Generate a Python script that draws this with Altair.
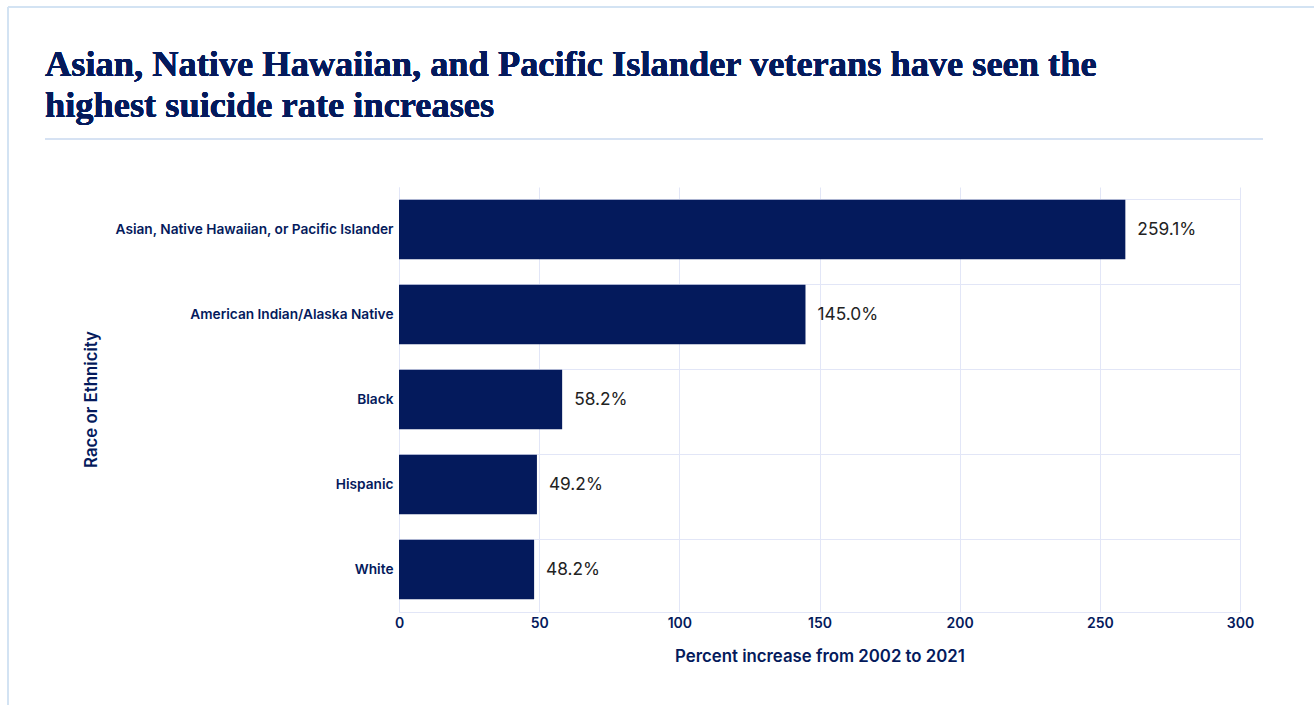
import altair as alt
import pandas as pd

categories = [
    "Asian, Native Hawaiian, or Pacific Islander",
    "American Indian/Alaska Native",
    "Black",
    "Hispanic",
    "White",
]
values = [259.1, 145.0, 58.2, 49.2, 48.2]
labels = ["259.1%", "145.0%", "58.2%", "49.2%", "48.2%"]
title_lines = [
    "Asian, Native Hawaiian, and Pacific Islander veterans have seen the",
    "highest suicide rate increases",
]

df = pd.DataFrame({"group": categories, "value": values, "label": labels})

NAVY = "#041a5c"
GRID = "#e2e6f7"

y_enc = alt.Y(
    "group:N",
    sort=categories,
    title="Race or Ethnicity",
    scale=alt.Scale(paddingInner=0.3, paddingOuter=0.15),
    axis=alt.Axis(
        labelFont="Inter",
        labelFontSize=13.7,
        labelFontWeight=600,
        labelColor=NAVY,
        labelPadding=6,
        labelLimit=400,
        ticks=False,
        domainColor=GRID,
        gridColor=GRID,
        grid=True,
        bandPosition=0,
        titleFont="Inter",
        titleFontSize=16.8,
        titleFontWeight=600,
        titleColor=NAVY,
        titleX=-299,
        titleY=212,
    ),
)

x_enc = alt.X(
    "value:Q",
    title="Percent increase from 2002 to 2021",
    scale=alt.Scale(domain=[0, 300]),
    axis=alt.Axis(
        values=[0, 50, 100, 150, 200, 250, 300],
        labelFont="Inter",
        labelFontSize=14,
        labelFontWeight=600,
        labelColor=NAVY,
        labelPadding=4,
        labelFlush=False,
        ticks=False,
        domainColor=GRID,
        gridColor=GRID,
        titleFont="Inter",
        titleFontSize=16.8,
        titleFontWeight=600,
        titleColor=NAVY,
        titlePadding=18,
    ),
)

base = alt.Chart(df)

bars = base.mark_bar(color=NAVY).encode(y=y_enc, x=x_enc)

text = base.mark_text(
    align="left", dx=12, font="Inter", fontSize=17.3, color="#222222"
).encode(y=alt.Y("group:N", sort=categories), x="value:Q", text="label:N")

sep = alt.Chart(df).mark_rule(color="#d6e2f3", strokeWidth=2).encode(
    x=alt.value(-354), x2=alt.value(864), y=alt.value(-48)
)

frame_left = alt.Chart(df).mark_rule(color="#d3e3f3", strokeWidth=2).encode(
    x=alt.value(-391), y=alt.value(-180), y2=alt.value(518)
)
frame_top = alt.Chart(df).mark_rule(color="#d3e3f3", strokeWidth=2).encode(
    x=alt.value(-391), x2=alt.value(915), y=alt.value(-180)
)

title = alt.Chart(df).mark_text(
    align="left",
    baseline="alphabetic",
    font="Liberation Serif",
    fontSize=36.4,
    fontWeight=600,
    color=NAVY,
    lineHeight=41,
).encode(x=alt.value(-354), y=alt.value(-111), text=alt.value(title_lines))

chart = (
    alt.layer(frame_left, frame_top, sep, title, bars, text)
    .properties(
        width=841,
        height=425,
        padding={"left": 399, "top": 187, "right": 74, "bottom": 94},
        autosize=alt.AutoSizeParams(type="none"),
    )
    .configure_view(stroke=None)
)

chart.save("out.html", embed_options={"renderer": "svg", "actions": False})
